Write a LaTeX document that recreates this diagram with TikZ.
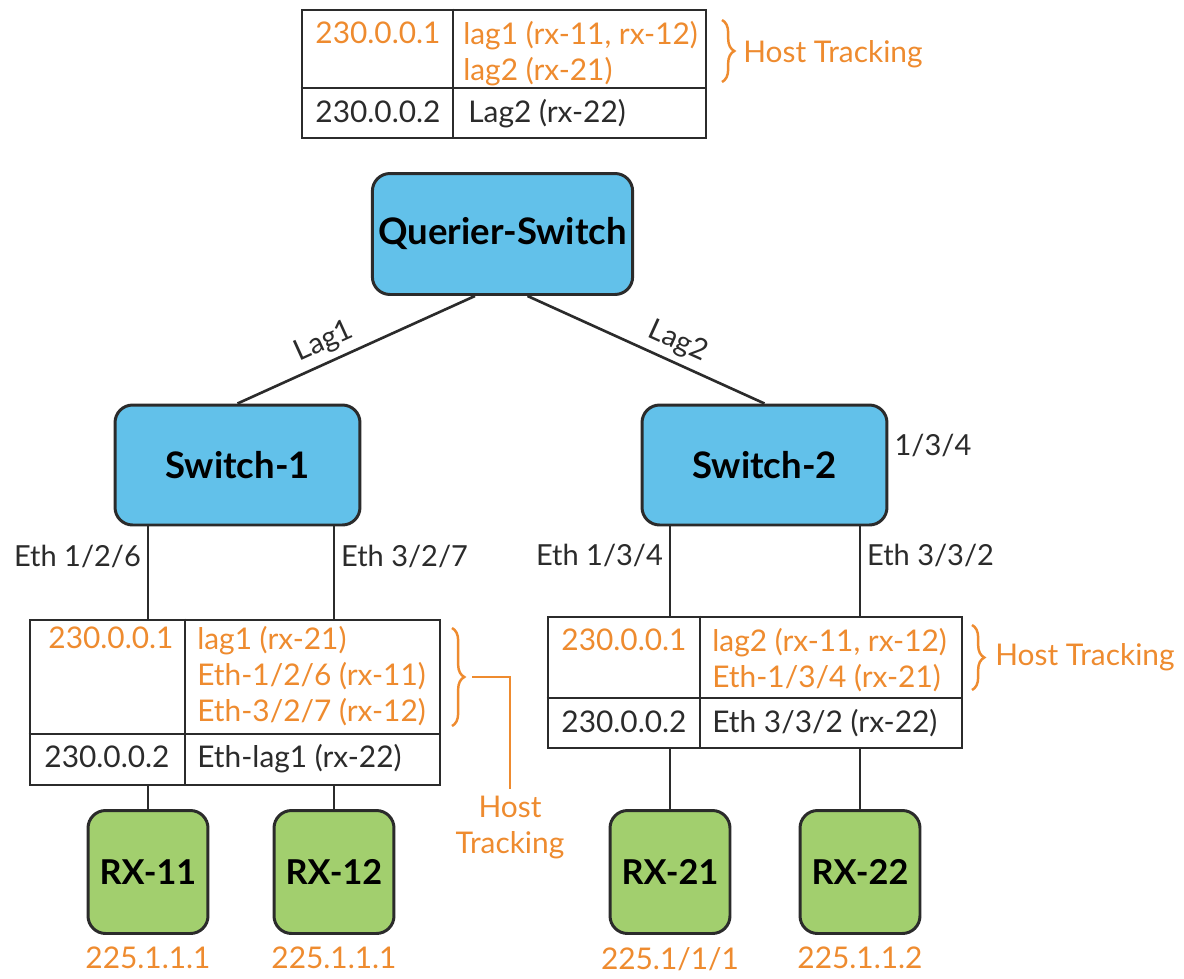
\documentclass[tikz,border=0pt]{standalone}
\usepackage{fontspec}
\setmainfont{Lato}
\usetikzlibrary{positioning,calc,decorations.pathreplacing}

\definecolor{swblue}{HTML}{62C1EA}
\definecolor{rxgreen}{HTML}{A2CF6E}
\definecolor{htorange}{HTML}{EE8B2F}
\definecolor{ink}{HTML}{2B2B2B}

\tikzset{
  switchbox/.style={draw=ink, line width=1.7pt, rounded corners=10pt, fill=swblue,
    font=\bfseries\fontsize{20.8}{24}\selectfont},
  rxbox/.style={draw=ink, line width=1.7pt, rounded corners=10pt, fill=rxgreen,
    minimum width=2.4cm, minimum height=2.46cm, font=\bfseries\fontsize{19.5}{23}\selectfont},
  tbl/.style={draw=ink, line width=1.5pt, inner sep=0pt},
  grid/.style={draw=ink, line width=1.2pt},
  cell/.style={inner sep=0pt, text=ink, align=left, font=\fontsize{17}{20.5}\selectfont},
  ht/.style={cell, text=htorange},
  lbl/.style={text=ink, font=\fontsize{16.5}{20}\selectfont},
  link/.style={draw=ink, line width=1.5pt},
  htbrace/.style={decorate, decoration={brace, amplitude=7pt}, draw=htorange, line width=1.4pt},
}

\begin{document}
\begin{tikzpicture}[x=0.02cm, y=-0.02cm]
\useasboundingbox (0,0) rectangle (1184,978);

% switches
\node[switchbox, minimum width=5.18cm, minimum height=2.42cm] (querier) at (502.5,234) {Querier-Switch};
\node[switchbox, minimum width=4.9cm, minimum height=2.4cm] (sw1) at (237.5,465) {Switch-1};
\node[switchbox, minimum width=4.9cm, minimum height=2.4cm] (sw2) at (764.5,465) {Switch-2};
\node[lbl, anchor=west] (port) at ([yshift=0.4cm]sw2.east) {1/3/4};

% receivers
\node[rxbox] (rx11) at (148,872) {RX-11};
\node[rxbox] (rx12) at (334,872) {RX-12};
\node[rxbox] (rx21) at (670,872) {RX-21};
\node[rxbox] (rx22) at (860,872) {RX-22};
\node[ht, below=0.24cm of rx11] (g11) {225.1.1.1};
\node[ht, below=0.24cm of rx12] (g12) {225.1.1.1};
\node[ht, below=0.24cm of rx21] (g21) {225.1/1/1};
\node[ht, below=0.24cm of rx22] (g22) {225.1.1.2};

% table at the querier
\node[tbl, minimum width=8.08cm, minimum height=2.56cm] (ttab) at (504,74) {};
\draw[grid] (ttab.west |- 0,88) -- (ttab.east |- 0,88);
\draw[grid] (ttab.north -| 453,0) -- (ttab.south -| 453,0);
\node[ht, anchor=base] (tgrp1) at (378,43) {230.0.0.1};
\node[ht, anchor=north west] (tport1) at (463,21) {lag1 (rx-11, rx-12)\\lag2 (rx-21)};
\node[cell, anchor=base] (tgrp2) at (378,122) {230.0.0.2};
\node[cell, anchor=base west] (tport2) at (468,122) {Lag2 (rx-22)};
\draw[htbrace] (722,20) -- (722,82);
\node[ht, anchor=west] (ttrack) at (743,54) {Host Tracking};

% table at switch-1
\node[tbl, minimum width=8.2cm, minimum height=3.3cm] (ltab) at (235,702.5) {};
\draw[grid] (ltab.west |- 0,734) -- (ltab.east |- 0,734);
\draw[grid] (ltab.north -| 185,0) -- (ltab.south -| 185,0);
\node[ht, anchor=base] (lgrp1) at (111,648) {230.0.0.1};
\node[ht, anchor=north west] (lport1) at (197,626) {lag1 (rx-21)\\Eth-1/2/6 (rx-11)\\Eth-3/2/7 (rx-12)};
\node[cell, anchor=base] (lgrp2) at (107,767) {230.0.0.2};
\node[cell, anchor=base west] (lport2) at (197,767) {Eth-lag1 (rx-22)};
\draw[htbrace] (452,628) -- (452,726);
\coordinate (ltip) at (472,677);
\node[ht, align=center, inner sep=4pt] (ltrack) at (510,828) {Host\\Tracking};
\draw[htorange, line width=1.4pt] (ltip) -| (ltrack.north);

% table at switch-2
\node[tbl, minimum width=8.28cm, minimum height=2.62cm] (rtab) at (755,682.5) {};
\draw[grid] (rtab.west |- 0,698) -- (rtab.east |- 0,698);
\draw[grid] (rtab.north -| 700,0) -- (rtab.south -| 700,0);
\node[ht, anchor=base] (rgrp1) at (624,650) {230.0.0.1};
\node[ht, anchor=north west] (rport1) at (712,628) {lag2 (rx-11, rx-12)\\Eth-1/3/4 (rx-21)};
\node[cell, anchor=base] (rgrp2) at (624,732) {230.0.0.2};
\node[cell, anchor=base west] (rport2) at (712,732) {Eth 3/3/2 (rx-22)};
\draw[htbrace] (972,625) -- (972,690);
\node[ht, anchor=west] (rtrack) at (995,657) {Host Tracking};

% links
\draw[link] ([xshift=-0.55cm]querier.south) -- node[lbl, sloped, above, pos=0.6] {Lag1} (sw1.north);
\draw[link] ([xshift=0.5cm]querier.south) -- node[lbl, sloped, above, pos=0.6] {Lag2} (sw2.north);
\draw[link] (rx11 |- sw1.south) -- node[lbl, left, pos=0.32] {Eth 1/2/6} (rx11 |- ltab.north);
\draw[link] (rx12 |- sw1.south) -- node[lbl, right, pos=0.32] {Eth 3/2/7} (rx12 |- ltab.north);
\draw[link] (rx21 |- sw2.south) -- node[lbl, left, pos=0.32] {Eth 1/3/4} (rx21 |- rtab.north);
\draw[link] (rx22 |- sw2.south) -- node[lbl, right, pos=0.32] {Eth 3/3/2} (rx22 |- rtab.north);
\draw[link] (rx11 |- ltab.south) -- (rx11.north);
\draw[link] (rx12 |- ltab.south) -- (rx12.north);
\draw[link] (rx21 |- rtab.south) -- (rx21.north);
\draw[link] (rx22 |- rtab.south) -- (rx22.north);

\end{tikzpicture}
\end{document}
